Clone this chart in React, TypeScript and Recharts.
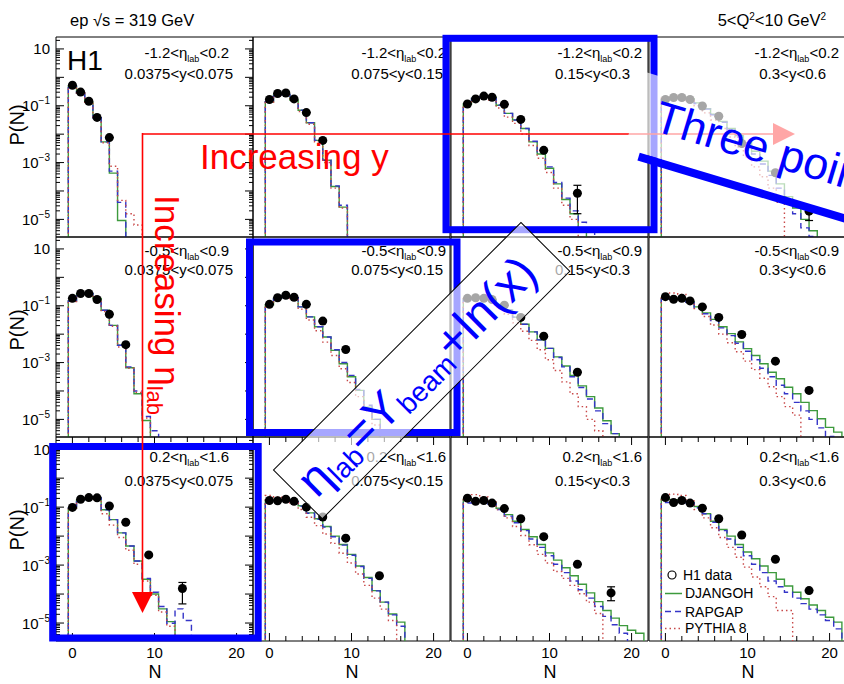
import React from "react";
import { ComposedChart, Line, Scatter, XAxis, YAxis, ErrorBar, ReferenceArea } from "recharts";

const FONT = '"Liberation Sans", Arial, Helvetica, sans-serif';
const GREEN = "#3d9a3d";
const BLUE = "#3535c8";
const RED = "#c84848";
const ANNO_BLUE = "#0000ff";
const ANNO_RED = "#ff0000";

// panel grid in pixels
const COL_X = [56, 253, 451, 649];
const ROW_Y = [37, 237, 437];
const ROW_H = [200, 200, 204];
const PW = 197;
const AXIS_W = 56;
const AXIS_H = 47;

const X_DOMAIN = [-2, 22];
const Y_DOMAIN = [10 ** -5.62, 10 ** 1.42];
const FLOOR = 1e-9;

// ticks
const xTicks = [0, 2, 4, 6, 8, 10, 12, 14, 16, 18, 20];
const xLabelTicks = [0, 10, 20];
const yDecades = [1e-6, 1e-5, 1e-4, 1e-3, 1e-2, 1e-1, 1, 10];
const yLabels: [number, string][] = [[10, ""], [1e-1, "−1"], [1e-3, "−3"], [1e-5, "−5"]];
const yTicks = yDecades
  .flatMap((d) => [1, 2, 3, 4, 5, 6, 7, 8, 9].map((m) => m * d))
  .filter((v) => v >= Y_DOMAIN[0] && v <= Y_DOMAIN[1]);

// bins
const etaBins = [["-1.2", "0.2"], ["-0.5", "0.9"], ["0.2", "1.6"]];
const yBins = ["0.0375<y<0.075", "0.075<y<0.15", "0.15<y<0.3", "0.3<y<0.6"];

// N of the H1 data points
const dataN = [0, 1, 2, 3, 4.5, 6.5, 9.3, 13.4, 17.5];

// H1 data, log10 P(N)   (a,b,c = eta bin; 1..4 = y bin)
const h1_a1 = [-0.28, -0.52, -0.84, -1.41, -2.12];
const h1_a2 = [-0.78, -0.57, -0.55, -0.76, -1.24, -2.22];
const h1_a3 = [-0.94, -0.76, -0.66, -0.7, -0.95, -1.48, -2.57, -4.08];
const h1_a4 = [-0.78, -0.71, -0.71, -0.78, -1.01, -1.37, -2.33, -3.36, -4.71];
const h1_b1 = [-0.74, -0.57, -0.57, -0.78, -1.3, -2.37];
const h1_b2 = [-0.95, -0.72, -0.63, -0.7, -0.95, -1.54, -2.54];
const h1_b3 = [-0.74, -0.72, -0.74, -0.78, -0.98, -1.41, -2.07, -3.34];
const h1_b4 = [-0.68, -0.77, -0.74, -0.83, -1.04, -1.41, -2.01, -2.95, -3.98];
const h1_c1 = [-1.01, -0.73, -0.67, -0.68, -0.96, -1.52, -2.65, -3.81];
const h1_c2 = [-0.77, -0.78, -0.73, -0.8, -1.0, -1.34, -2.07, -3.37];
const h1_c3 = [-0.69, -0.8, -0.77, -0.86, -1.05, -1.4, -2.02, -2.97, -3.96];
const h1_c4 = [-0.67, -0.84, -0.77, -0.86, -1.04, -1.4, -1.96, -2.8, -3.88];

// error band (log10 low, high) of the last point where visible
const err_a3 = [-4.8, -3.8];
const err_a4 = [-5.04, -4.55];
const err_c1 = [-4.34, -3.6];
const err_c3 = [-4.23, -3.75];

// DJANGOH, log10 P(N) for N = 0,1,2,...
const dj_a1 = [-0.31, -0.55, -0.88, -1.42, -2.27, -3.37, -5.04];
const dj_a2 = [-0.86, -0.62, -0.6, -0.8, -1.16, -1.6, -2.22, -2.92, -3.84, -4.57];
const dj_a3 = [-0.94, -0.74, -0.68, -0.7, -0.98, -1.27, -1.5, -1.8, -2.27, -2.7, -3.2, -3.75, -4.3, -4.8, -5.3];
const dj_a4 = [-0.78, -0.7, -0.7, -0.75, -0.9, -1.1, -1.3, -1.55, -1.8, -2.05, -2.3, -2.6, -2.95, -3.3, -3.75, -4.2, -4.6, -5.0, -5.4];
const dj_b1 = [-0.83, -0.59, -0.57, -0.74, -1.16, -1.69, -2.39, -3.18, -4.1, -5.04];
const dj_b2 = [-0.97, -0.74, -0.65, -0.72, -1.04, -1.39, -1.74, -2.1, -2.57, -3.04, -3.5, -3.98, -4.57, -5.0];
const dj_b3 = [-0.78, -0.72, -0.72, -0.78, -0.95, -1.15, -1.4, -1.65, -1.92, -2.2, -2.5, -2.8, -3.12, -3.45, -3.82, -4.2, -4.6, -5.05, -5.5];
const dj_b4 = [-0.74, -0.74, -0.74, -0.86, -1.04, -1.25, -1.48, -1.74, -1.98, -2.27, -2.51, -2.75, -3.04, -3.34, -3.57, -3.87, -4.1, -4.4, -4.69, -4.98, -5.28, -5.45];
const dj_c1 = [-1.04, -0.75, -0.68, -0.68, -1.09, -1.43, -1.89, -2.34, -2.86, -3.49, -4.0, -4.51, -4.95];
const dj_c2 = [-0.77, -0.77, -0.74, -0.8, -0.95, -1.2, -1.4, -1.67, -2.0, -2.29, -2.63, -3.03, -3.43, -3.88, -4.28, -4.69, -4.97];
const dj_c3 = [-0.74, -0.76, -0.77, -0.84, -1.04, -1.26, -1.49, -1.77, -2.02, -2.29, -2.58, -2.83, -3.09, -3.37, -3.66, -3.96, -4.26, -4.57, -4.83, -5.09, -5.25, -5.35];
const dj_c4 = [-0.71, -0.74, -0.76, -0.84, -0.98, -1.23, -1.49, -1.77, -2.0, -2.29, -2.55, -2.78, -3.03, -3.26, -3.49, -3.72, -3.94, -4.16, -4.38, -4.57, -4.8, -4.97];

// RAPGAP
const rg_a1 = [-0.31, -0.55, -0.88, -1.42, -2.27, -3.3, -4.4];
const rg_a2 = [-0.86, -0.62, -0.6, -0.8, -1.16, -1.6, -2.22, -2.92, -3.82, -4.5];
const rg_a3 = [-0.94, -0.74, -0.68, -0.7, -0.98, -1.27, -1.5, -1.8, -2.25, -2.65, -3.15, -3.7, -4.25, -4.7, -5.1, -5.4];
const rg_a4 = [-0.8, -0.72, -0.72, -0.77, -0.92, -1.12, -1.32, -1.58, -1.85, -2.1, -2.4, -2.7, -3.05, -3.45, -3.9, -4.4, -4.8, -5.3, -5.6];
const rg_b1 = [-0.83, -0.59, -0.57, -0.74, -1.16, -1.69, -2.39, -3.15, -4.0, -4.9, -5.4];
const rg_b2 = [-0.97, -0.74, -0.65, -0.72, -1.04, -1.39, -1.74, -2.1, -2.55, -3.0, -3.45, -3.95, -4.5, -5.0];
const rg_b3 = [-0.78, -0.72, -0.72, -0.78, -0.95, -1.15, -1.4, -1.65, -1.92, -2.2, -2.5, -2.82, -3.15, -3.5, -3.88, -4.28, -4.7, -5.15, -5.5];
const rg_b4 = [-0.76, -0.76, -0.76, -0.88, -1.06, -1.28, -1.52, -1.78, -2.05, -2.32, -2.6, -2.9, -3.2, -3.5, -3.8, -4.1, -4.4, -4.7, -5.0, -5.3, -5.6];
const rg_c1 = [-1.04, -0.75, -0.68, -0.68, -1.09, -1.43, -1.89, -2.34, -2.86, -3.46, -3.94, -4.43, -5.01, -4.51, -4.91];
const rg_c2 = [-0.79, -0.79, -0.76, -0.82, -0.97, -1.21, -1.42, -1.69, -2.02, -2.31, -2.66, -3.05, -3.46, -3.89, -4.28, -4.72, -5.11];
const rg_c3 = [-0.86, -0.79, -0.79, -0.89, -1.08, -1.31, -1.54, -1.81, -2.1, -2.39, -2.68, -2.97, -3.26, -3.55, -3.85, -4.14, -4.43, -4.77, -5.06, -5.35];
const rg_c4 = [-0.84, -0.82, -0.79, -0.86, -1.02, -1.23, -1.52, -1.81, -2.1, -2.39, -2.68, -2.97, -3.26, -3.55, -3.75, -3.94, -4.14, -4.33, -4.52, -4.72, -4.91, -5.2];

// PYTHIA 8
const py_a1 = [-0.31, -0.55, -0.88, -1.45, -2.3, -3.13, -4.33, -4.8, -5.2];
const py_a2 = [-0.88, -0.64, -0.62, -0.82, -1.2, -1.65, -2.28, -3.0, -3.9, -4.6];
const py_a3 = [-0.95, -0.8, -0.74, -0.8, -1.08, -1.4, -1.62, -2.0, -2.4, -2.85, -3.35, -3.9, -4.5, -5.0];
const py_a4 = [-0.7, -0.65, -0.7, -0.82, -1.0, -1.25, -1.5, -1.8, -2.1, -2.45, -2.8, -3.15, -3.5, -3.9, -4.4];
const py_b1 = [-0.85, -0.6, -0.58, -0.76, -1.2, -1.72, -2.45, -3.2, -4.05, -4.95];
const py_b2 = [-0.98, -0.78, -0.7, -0.8, -1.12, -1.5, -1.88, -2.28, -2.75, -3.22, -3.7, -4.2, -4.7, -5.2];
const py_b3 = [-0.74, -0.7, -0.74, -0.84, -1.05, -1.3, -1.6, -1.9, -2.22, -2.55, -2.9, -3.28, -3.68, -4.1, -4.55, -5.0, -5.4];
const py_b4 = [-0.72, -0.55, -0.6, -0.82, -1.1, -1.38, -1.68, -2.0, -2.3, -2.62, -2.95, -3.25, -3.55, -3.85, -4.2, -4.55, -4.85];
const py_c1 = [-1.06, -0.78, -0.72, -0.74, -1.23, -1.62, -2.05, -2.49, -2.97, -3.55, -4.04, -4.62, -5.11];
const py_c2 = [-0.6, -0.65, -0.74, -0.86, -1.08, -1.35, -1.64, -1.93, -2.25, -2.59, -2.93, -3.31, -3.7, -4.14, -4.52, -4.91];
const py_c3 = [-0.7, -0.57, -0.65, -0.82, -1.08, -1.37, -1.67, -1.98, -2.3, -2.63, -2.93, -3.22, -3.46, -3.7, -3.99, -4.28, -4.67];
const py_c4 = [-0.65, -0.55, -0.6, -0.79, -1.08, -1.37, -1.71, -2.05, -2.39, -2.73, -3.07, -3.41, -3.75, -4.09, -4.57, -4.57];

const panels = [
  { r: 0, c: 0, h1: h1_a1, err: null, dj: dj_a1, rg: rg_a1, py: py_a1 },
  { r: 0, c: 1, h1: h1_a2, err: null, dj: dj_a2, rg: rg_a2, py: py_a2 },
  { r: 0, c: 2, h1: h1_a3, err: err_a3, dj: dj_a3, rg: rg_a3, py: py_a3 },
  { r: 0, c: 3, h1: h1_a4, err: err_a4, dj: dj_a4, rg: rg_a4, py: py_a4 },
  { r: 1, c: 0, h1: h1_b1, err: null, dj: dj_b1, rg: rg_b1, py: py_b1 },
  { r: 1, c: 1, h1: h1_b2, err: null, dj: dj_b2, rg: rg_b2, py: py_b2 },
  { r: 1, c: 2, h1: h1_b3, err: null, dj: dj_b3, rg: rg_b3, py: py_b3 },
  { r: 1, c: 3, h1: h1_b4, err: null, dj: dj_b4, rg: rg_b4, py: py_b4 },
  { r: 2, c: 0, h1: h1_c1, err: err_c1, dj: dj_c1, rg: rg_c1, py: py_c1 },
  { r: 2, c: 1, h1: h1_c2, err: null, dj: dj_c2, rg: rg_c2, py: py_c2 },
  { r: 2, c: 2, h1: h1_c3, err: err_c3, dj: dj_c3, rg: rg_c3, py: py_c3 },
  { r: 2, c: 3, h1: h1_c4, err: null, dj: dj_c4, rg: rg_c4, py: py_c4 },
];

// histogram outline: unit bins centred on N = 0,1,2,...
function stepData(logs: number[]) {
  const pts = [{ x: -0.5, y: FLOOR }];
  logs.forEach((l, k) => pts.push({ x: k - 0.5, y: 10 ** l }));
  const end = logs.length - 0.5;
  pts.push({ x: end, y: 10 ** logs[logs.length - 1] });
  pts.push({ x: end, y: FLOOR });
  return pts;
}

function pointData(logs: number[], errLast: number[] | null) {
  return logs.map((l, i) => {
    const v = 10 ** l;
    const e = errLast && i === logs.length - 1 ? [v - 10 ** errLast[0], 10 ** errLast[1] - v] : [0, 0];
    return { x: dataN[i], y: v, err: e };
  });
}

function XTick(props: any) {
  const { x, y, payload, showLabel, ph } = props;
  const v = payload.value;
  const major = v % 10 === 0;
  const len = major ? 8 : 5;
  return (
    <g>
      <line x1={x} x2={x} y1={y} y2={y - len} stroke="#000" />
      <line x1={x} x2={x} y1={y - ph} y2={y - ph + len} stroke="#000" />
      {showLabel && xLabelTicks.includes(v) && (
        <text x={x} y={y + 17} textAnchor="middle" fontSize={15} fontFamily={FONT} fill="#000">
          {v}
        </text>
      )}
    </g>
  );
}

function YTick(props: any) {
  const { x, y, payload, showLabel } = props;
  const lg = Math.log10(payload.value);
  const major = Math.abs(lg - Math.round(lg)) < 1e-6;
  const len = major ? 8 : 4;
  const lab = showLabel ? yLabels.find(([t]) => Math.abs(Math.log10(t) - lg) < 1e-6) : undefined;
  return (
    <g>
      <line x1={x} x2={x + len} y1={y} y2={y} stroke="#000" />
      <line x1={x + PW} x2={x + PW - len} y1={y} y2={y} stroke="#000" />
      {lab && (
        <text x={x - 6} y={y + 5.5} textAnchor="end" fontSize={15} fontFamily={FONT} fill="#000">
          10
          {lab[1] && (
            <tspan dy={-7} fontSize={10}>
              {lab[1]}
            </tspan>
          )}
        </text>
      )}
    </g>
  );
}

function Panel({ p }: { p: (typeof panels)[number] }) {
  const left = p.c === 0 ? AXIS_W : 0;
  const bottom = p.r === 2 ? AXIS_H : 0;
  const ph = ROW_H[p.r];
  return (
    <div style={{ position: "absolute", left: COL_X[p.c] - left, top: ROW_Y[p.r] }}>
      <ComposedChart width={PW + left} height={ph + bottom} margin={{ top: 0, right: 0, bottom: 0, left: 0 }}>
        <XAxis
          type="number"
          dataKey="x"
          domain={X_DOMAIN}
          allowDataOverflow
          ticks={xTicks}
          interval={0}
          tickSize={0}
          tickMargin={0}
          axisLine={false}
          tickLine={false}
          height={bottom}
          tick={(t: any) => <XTick {...t} ph={ph} showLabel={p.r === 2} />}
        />
        <YAxis
          type="number"
          dataKey="y"
          scale="log"
          domain={Y_DOMAIN}
          allowDataOverflow
          ticks={yTicks}
          interval={0}
          tickSize={0}
          tickMargin={0}
          axisLine={false}
          tickLine={false}
          width={left}
          tick={(t: any) => <YTick {...t} showLabel={p.c === 0} />}
        />
        <ReferenceArea
          x1={X_DOMAIN[0]}
          x2={X_DOMAIN[1]}
          y1={Y_DOMAIN[0]}
          y2={Y_DOMAIN[1]}
          fill="none"
          stroke="#000"
          strokeWidth={1}
        />
        <Line data={stepData(p.dj)} dataKey="y" type="stepAfter" stroke={GREEN} strokeWidth={1.4} dot={false} isAnimationActive={false} />
        <Line data={stepData(p.rg)} dataKey="y" type="stepAfter" stroke={BLUE} strokeWidth={1.4} strokeDasharray="6 4" dot={false} isAnimationActive={false} />
        <Line data={stepData(p.py)} dataKey="y" type="stepAfter" stroke={RED} strokeWidth={1.4} strokeDasharray="1.5 3" dot={false} isAnimationActive={false} />
        <Scatter
          data={pointData(p.h1, p.err)}
          dataKey="y"
          isAnimationActive={false}
          shape={(s: any) => <circle cx={s.cx} cy={s.cy} r={4.5} fill="#000" />}
        >
          <ErrorBar dataKey="err" direction="y" width={4} stroke="#000" strokeWidth={1.2} />
        </Scatter>
      </ComposedChart>
    </div>
  );
}

const LABEL_R1 = [229, 446, 642, 839];
const LABEL_R2 = [233, 443, 630, 826];
const LABEL_Y = [[21, 42], [19, 38], [25, 49]];

function Overlay() {
  return (
    <svg width={844} height={684} style={{ position: "absolute", left: 0, top: 0, pointerEvents: "none" }} fontFamily={FONT}>
      {/* header */}
      <text x={70} y={26} fontSize={16.5} fill="#000">
        ep √s = 319 GeV
      </text>
      <text x={826} y={26} fontSize={16.5} textAnchor="end" fill="#000">
        5&lt;Q<tspan dy={-6} fontSize={10}>2</tspan>
        <tspan dy={6}>&lt;10 GeV</tspan>
        <tspan dy={-6} fontSize={10}>2</tspan>
      </text>
      <text x={67} y={70} fontSize={28} fill="#000">
        H1
      </text>

      {/* panel labels */}
      {panels.map((p) => (
        <g key={`lab${p.r}${p.c}`} fontSize={15} fill="#000">
          <text x={LABEL_R1[p.c]} y={ROW_Y[p.r] + LABEL_Y[p.r][0]} textAnchor="end">
            {`${etaBins[p.r][0]}<η`}
            <tspan dy={4} fontSize={9}>
              lab
            </tspan>
            <tspan dy={-4}>{`<${etaBins[p.r][1]}`}</tspan>
          </text>
          <text x={LABEL_R2[p.c]} y={ROW_Y[p.r] + LABEL_Y[p.r][1]} textAnchor="end">
            {yBins[p.c]}
          </text>
        </g>
      ))}

      {/* axis titles */}
      {[125, 330, 530].map((cy) => (
        <text key={`pn${cy}`} x={24} y={cy} fontSize={20} textAnchor="middle" transform={`rotate(-90 24 ${cy})`} fill="#000">
          P(N)
        </text>
      ))}
      {COL_X.map((cx) => (
        <text key={`nx${cx}`} x={cx + 99} y={678} fontSize={18} textAnchor="middle" fill="#000">
          N
        </text>
      ))}

      {/* legend */}
      <g fontSize={14} fill="#000">
        <circle cx={672} cy={575} r={4} fill="none" stroke="#000" strokeWidth={1.2} />
        <text x={683} y={580}>H1 data</text>
        <line x1={665} x2={682} y1={593.5} y2={593.5} stroke={GREEN} strokeWidth={1.5} />
        <text x={685} y={598}>DJANGOH</text>
        <line x1={665} x2={682} y1={611.5} y2={611.5} stroke={BLUE} strokeWidth={1.5} strokeDasharray="6 4" />
        <text x={685} y={617}>RAPGAP</text>
        <line x1={665} x2={682} y1={628.5} y2={628.5} stroke={RED} strokeWidth={1.5} strokeDasharray="1.5 3" />
        <text x={685} y={633}>PYTHIA 8</text>
      </g>

      {/* blue frames */}
      <g fill="none" stroke={ANNO_BLUE} strokeWidth={7}>
        <rect x={446} y={38.3} width={208} height={191.4} />
        <rect x={249.5} y={242} width={207.5} height={190.5} />
        <rect x={52.7} y={446.5} width={205.5} height={191.5} />
      </g>

      {/* red arrows */}
      <line x1={142.5} y1={134} x2={778} y2={134} stroke={ANNO_RED} strokeWidth={1.6} />
      <polygon points="773,123 795,134 773,145" fill={ANNO_RED} />
      <line x1={142.5} y1={133} x2={142.5} y2={596} stroke={ANNO_RED} strokeWidth={1.6} />
      <polygon points="132,592 153,592 142.5,613" fill={ANNO_RED} />
      <text x={200} y={169} fontSize={35} fill={ANNO_RED}>
        Increasing y
      </text>
      <text x={0} y={0} fontSize={35} fill={ANNO_RED} transform="translate(155 195) rotate(90)">
        Increasing η
        <tspan dy={8} fontSize={22}>
          lab
        </tspan>
      </text>

      {/* eta_lab relation box */}
      <g transform="translate(422 371) rotate(-45)">
        <rect x={-175} y={-35} width={350} height={69} fill="#fff" fillOpacity={0.65} stroke="#000" strokeWidth={1} />
        <text x={-165} y={16} fontSize={48} fill={ANNO_BLUE}>
          η
          <tspan dy={6} fontSize={28}>
            lab
          </tspan>
          <tspan dy={-6}>=Y</tspan>
          <tspan dy={6} fontSize={28}>
            beam
          </tspan>
          <tspan dy={-6}>+ln(x)</tspan>
        </text>
      </g>

      {/* three points box */}
      <g transform="translate(627 150) rotate(16.7)">
        <rect x={-3} y={-80} width={300} height={79} fill="#fff" fillOpacity={0.65} />
        <rect x={13} y={-1} width={260} height={8} fill={ANNO_BLUE} />
        <text x={18} y={-26} fontSize={45} fill={ANNO_BLUE}>
          Three points
        </text>
      </g>
    </svg>
  );
}

export default function App() {
  return (
    <div
      style={{
        position: "fixed",
        left: 0,
        top: 0,
        width: 844,
        height: 684,
        overflow: "hidden",
        background: "#fff",
        fontFamily: FONT,
      }}
    >
      <style>{`.recharts-surface{overflow:visible}`}</style>
      {panels.map((p) => (
        <Panel key={`p${p.r}${p.c}`} p={p} />
      ))}
      <Overlay />
    </div>
  );
}
